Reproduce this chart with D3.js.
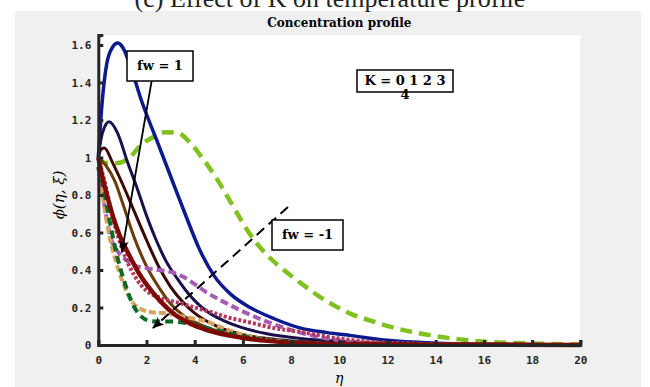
<!DOCTYPE html>
<html>
<head>
<meta charset="utf-8">
<script src="https://cdn.jsdelivr.net/npm/d3@7"></script>
<style>
  body { margin: 0; background: #fff; }
  svg { display: block; }
</style>
</head>
<body>
<script>
// series: eta grid + phi values for each curve
const blueEta  = [0, 0.15, 0.35, 0.6, 0.8, 1.0, 1.3, 1.8, 2.4, 3.0, 3.6, 4.2, 4.8, 5.5, 6.3, 7.3, 8.4, 9.5, 10.5, 12, 14, 16, 20];
const bluePhi  = [1.0, 1.28, 1.5, 1.59, 1.61, 1.59, 1.5, 1.3, 1.1, 0.9, 0.7, 0.51, 0.37, 0.27, 0.2, 0.14, 0.09, 0.066, 0.05, 0.025, 0.01, 0.004, 0.0];
const navyEta  = [0, 0.1, 0.25, 0.45, 0.8, 1.2, 1.6, 2.0, 2.4, 2.8, 3.3, 3.7, 4.5, 5.2, 5.9, 7, 8.4, 10, 12, 14, 20];
const navyPhi  = [1.0, 1.09, 1.16, 1.19, 1.13, 0.98, 0.84, 0.69, 0.56, 0.45, 0.35, 0.28, 0.18, 0.13, 0.095, 0.06, 0.035, 0.02, 0.01, 0.005, 0.0];
const maroonEta = [0, 0.1, 0.25, 0.6, 1.0, 1.5, 2.0, 2.5, 3.0, 3.5, 4.0, 5, 6, 7, 8, 10, 12, 20];
const maroonPhi = [1.0, 1.04, 1.05, 0.97, 0.86, 0.71, 0.56, 0.42, 0.31, 0.23, 0.17, 0.095, 0.055, 0.035, 0.022, 0.01, 0.005, 0.0];
const brownEta = [0, 0.3, 0.7, 1.0, 1.5, 2.0, 2.5, 3.0, 3.5, 4.5, 5.5, 7, 9, 12, 20];
const brownPhi = [1.0, 0.96, 0.87, 0.76, 0.57, 0.42, 0.31, 0.22, 0.16, 0.095, 0.055, 0.025, 0.01, 0.003, 0.0];
const redEta   = [0, 0.2, 0.4, 0.6, 0.9, 1.2, 1.7, 2.2, 2.6, 3.2, 3.8, 4.5, 5.9, 7, 8.4, 10, 20];
const redPhi   = [1.0, 0.88, 0.78, 0.69, 0.58, 0.5, 0.38, 0.29, 0.23, 0.16, 0.115, 0.08, 0.04, 0.022, 0.01, 0.004, 0.0];
const tanEta   = [0, 0.2, 0.4, 0.7, 1.0, 1.4, 1.8, 2.2, 2.8, 3.4, 4.0, 4.5, 5.0, 5.5, 6.5, 8, 10, 20];
const tanPhi   = [0.95, 0.78, 0.62, 0.46, 0.34, 0.23, 0.19, 0.175, 0.17, 0.155, 0.14, 0.125, 0.1, 0.075, 0.04, 0.015, 0.005, 0.0];
const dgreenEta = [0, 0.15, 0.4, 0.75, 1.1, 1.5, 1.8, 2.1, 2.5, 3.0, 3.5, 4.2, 5.2, 6.5, 8, 10, 20];
const dgreenPhi = [0.95, 0.88, 0.71, 0.49, 0.33, 0.2, 0.15, 0.13, 0.125, 0.125, 0.12, 0.1, 0.07, 0.035, 0.015, 0.005, 0.0];
const crimsonEta = [0, 0.3, 0.6, 1.0, 1.5, 2.0, 2.5, 3.0, 3.5, 4.0, 4.7, 5.3, 6.3, 7.3, 8.4, 9.7, 11, 13, 16, 20];
const crimsonPhi = [1.0, 0.85, 0.68, 0.51, 0.37, 0.29, 0.255, 0.235, 0.22, 0.2, 0.175, 0.15, 0.12, 0.09, 0.07, 0.04, 0.02, 0.008, 0.002, 0.0];
const purpleEta = [0, 0.25, 0.5, 0.8, 1.2, 1.6, 2.0, 2.5, 3.0, 3.5, 4.0, 4.5, 5.2, 5.9, 6.6, 7.3, 8.4, 9.7, 11, 13, 20];
const purplePhi = [0.95, 0.75, 0.58, 0.5, 0.45, 0.42, 0.41, 0.4, 0.39, 0.365, 0.325, 0.28, 0.23, 0.185, 0.145, 0.11, 0.065, 0.03, 0.012, 0.004, 0.0];
const lgreenEta = [0, 0.3, 0.8, 1.3, 1.8, 2.3, 2.8, 3.3, 3.8, 4.3, 4.9, 5.5, 6.3, 7.0, 7.7, 8.4, 9.1, 9.8, 10.5, 11.3, 12.1, 13, 14, 15, 16, 17, 18, 20];
const lgreenPhi = [1.0, 0.97, 0.97, 1.0, 1.07, 1.11, 1.135, 1.13, 1.08, 1.0, 0.89, 0.76, 0.59, 0.48, 0.4, 0.33, 0.265, 0.21, 0.165, 0.13, 0.098, 0.07, 0.047, 0.03, 0.018, 0.012, 0.008, 0.003];

const xTicks = [0, 2, 4, 6, 8, 10, 12, 14, 16, 18, 20];
const yTicks = [0, 0.2, 0.4, 0.6, 0.8, 1, 1.2, 1.4, 1.6];

const series = [
  {eta: lgreenEta, phi: lgreenPhi, color: "#80c11f", w: 4.5, dash: "12,7"},
  {eta: blueEta, phi: bluePhi, color: "#0d1a8e", w: 3.5, dash: null},
  {eta: navyEta, phi: navyPhi, color: "#19104c", w: 3, dash: null},
  {eta: maroonEta, phi: maroonPhi, color: "#3d0707", w: 3, dash: null},
  {eta: brownEta, phi: brownPhi, color: "#6b3c0b", w: 3, dash: null},
  {eta: purpleEta, phi: purplePhi, color: "#a65bb7", w: 4, dash: "8,4"},
  {eta: crimsonEta, phi: crimsonPhi, color: "#b3385c", w: 4, dash: "3,2"},
  {eta: tanEta, phi: tanPhi, color: "#d6a461", w: 4, dash: "7,3"},
  {eta: dgreenEta, phi: dgreenPhi, color: "#0b6a26", w: 4, dash: "8,5"},
  {eta: redEta, phi: redPhi, color: "#7e0a06", w: 4.5, dash: null}
];

const width = 650, height = 387;
const svg = d3.select("body").append("svg")
  .attr("width", width).attr("height", height);

// figure background
svg.append("rect").attr("x", 15).attr("y", 11).attr("width", 626).attr("height", 376).attr("fill", "#f0f0f0");
// panel caption, cut off at the top as in the source
svg.append("text").attr("x", 330).attr("y", 7).attr("text-anchor", "middle")
  .style("font-family", "'Liberation Serif', serif").style("font-size", "26px").attr("fill", "#222")
  .text("(c) Effect of K on temperature profile");

const x = d3.scaleLinear().domain([0, 20]).range([98.3, 580.3]);
const y = d3.scaleLinear().domain([0, 1.6533]).range([345, 35]);

svg.append("rect").attr("x", x(0)).attr("y", y(1.6533))
  .attr("width", x(20) - x(0)).attr("height", y(0) - y(1.6533)).attr("fill", "#fff");

svg.append("text").attr("x", (x(0) + x(20)) / 2).attr("y", 27).attr("text-anchor", "middle")
  .style("font-family", "'DejaVu Serif', serif").style("font-weight", "bold").style("font-size", "12px")
  .text("Concentration profile");

const line = d3.line().x(d => x(d[0])).y(d => y(d[1])).curve(d3.curveMonotoneX);

svg.append("g").selectAll("path")
  .data(series)
  .join("path")
  .attr("d", s => line(s.eta.map((e, i) => [e, s.phi[i]])))
  .attr("fill", "none")
  .attr("stroke", s => s.color)
  .attr("stroke-width", s => s.w)
  .attr("stroke-dasharray", s => s.dash);

// axes
const xAxis = svg.append("g").attr("transform", `translate(0,${y(0)})`)
  .call(d3.axisBottom(x).tickValues(xTicks).tickSize(-5).tickPadding(11).tickFormat(d3.format("d")));
const yAxis = svg.append("g").attr("transform", `translate(${x(0)},0)`)
  .call(d3.axisLeft(y).tickValues(yTicks).tickSize(-5).tickPadding(7).tickFormat(d => d === 0 || d === 1 ? d : d3.format(".1f")(d)));
[xAxis, yAxis].forEach(g => {
  g.select(".domain").attr("stroke", "#262626").attr("stroke-width", 3);
  g.selectAll(".tick line").attr("stroke", "#262626").attr("stroke-width", 3);
  g.selectAll(".tick text").attr("fill", "#262626")
    .style("font-family", "'DejaVu Sans Mono', monospace").style("font-weight", "bold").style("font-size", "11px");
});

svg.append("text").attr("x", (x(0) + x(20)) / 2).attr("y", 383).attr("text-anchor", "middle")
  .style("font-family", "'DejaVu Serif', serif").style("font-style", "italic").style("font-size", "14px")
  .text("η");
svg.append("text").attr("transform", `translate(64,${y(0.8)}) rotate(-90)`).attr("text-anchor", "middle")
  .style("font-family", "'DejaVu Serif', serif").style("font-style", "italic").style("font-size", "15px")
  .text("ϕ(η, ξ)");

// annotations
const defs = svg.append("defs");
defs.append("marker").attr("id", "head").attr("viewBox", "0 0 12 10")
  .attr("refX", 11).attr("refY", 5).attr("markerWidth", 12).attr("markerHeight", 10)
  .attr("markerUnits", "userSpaceOnUse").attr("orient", "auto")
  .append("path").attr("d", "M0,0 L12,5 L0,10 L3,5 Z").attr("fill", "#000");

svg.append("line").attr("x1", x(2.27)).attr("y1", y(1.45)).attr("x2", x(0.98)).attr("y2", y(0.496))
  .attr("stroke", "#000").attr("stroke-width", 1.8).attr("marker-end", "url(#head)");
svg.append("line").attr("x1", x(7.87)).attr("y1", y(0.736)).attr("x2", x(2.27)).attr("y2", y(0.091))
  .attr("stroke", "#000").attr("stroke-width", 2).attr("stroke-dasharray", "10,6").attr("marker-end", "url(#head)");

function box(x0, y0, w, h, lines) {
  svg.append("rect").attr("x", x0).attr("y", y0).attr("width", w).attr("height", h)
    .attr("fill", "#fff").attr("stroke", "#000").attr("stroke-width", 1.5);
  lines.forEach(l => {
    svg.append("text").attr("x", x0 + w / 2).attr("y", l.y).attr("text-anchor", "middle")
      .style("font-family", "'DejaVu Serif', serif").style("font-weight", "bold").style("font-size", "13px")
      .text(l.t);
  });
}
box(127, 51, 66, 30, [{t: "fw = 1", y: 70}]);
box(272, 220, 71, 30, [{t: "fw = -1", y: 239}]);
box(357, 70, 96, 22, [{t: "K = 0 1 2 3", y: 85}, {t: "4", y: 99}]);
</script>
</body>
</html>
